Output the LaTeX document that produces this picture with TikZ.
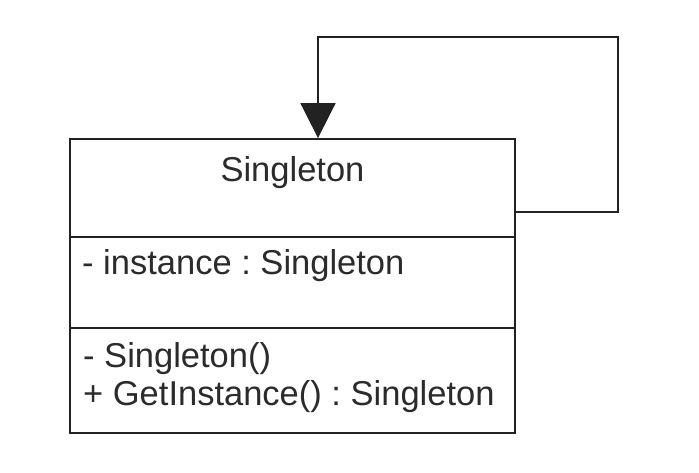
\documentclass[tikz,border=0pt]{standalone}
\usepackage{fontspec}
\setmainfont{Liberation Sans}
\usepackage{tikz}
\usetikzlibrary{arrows.meta, positioning, calc}
\usepackage{xcolor}
\definecolor{cLine}{HTML}{222222}
\definecolor{cText}{HTML}{2B2B2B}
\frenchspacing
\tikzset{
  classpart/.style={
    draw=cLine, fill=white, rectangle,
    minimum width=445pt, minimum height=#1,
    line width=1.8pt, inner sep=0pt,
  },
  membertext/.style={
    font=\fontsize{34.5}{40}\selectfont, text=cText,
    inner sep=0pt, anchor=base west,
  },
  selfarw/.style={-{Triangle[length=35pt, width=35pt]}, line width=1.8pt, color=cLine},
}

\begin{document}
\begin{tikzpicture}[x=1pt, y=-1pt]
  \useasboundingbox (0,0) rectangle (699,473);

  % Class compartments
  \node[classpart=98pt] (name) at (292.5,188) {};
  \node[classpart=91pt] (attrs) at (292.5,282.5) {};
  \node[classpart=105pt] (ops) at (292.5,380.5) {};

  \node[membertext, anchor=base] (title) at (292.5,182) {Singleton};
  \node[membertext] (inst) at (82,275) {- instance : Singleton};
  \node[membertext] (ctor) at (83,367) {- Singleton()};
  \node[membertext] (getinst) at (83,405) {+ GetInstance() : Singleton};

  % Self association
  \coordinate (loopR) at (618,37);
  \coordinate (loopL) at (318,37);
  \draw[selfarw] ([yshift=-24pt]name.east) -| (loopR) -- (loopL) -- (loopL |- name.north);

\end{tikzpicture}
\end{document}
